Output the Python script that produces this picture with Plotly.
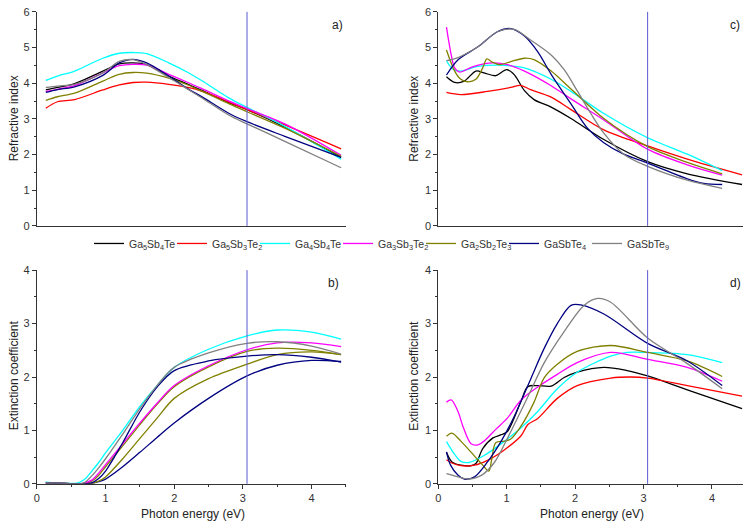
import plotly.graph_objects as go

W, H = 751, 527

names = ["Ga<sub>5</sub>Sb<sub>4</sub>Te", "Ga<sub>5</sub>Sb<sub>3</sub>Te<sub>2</sub>",
         "Ga<sub>4</sub>Sb<sub>4</sub>Te", "Ga<sub>3</sub>Sb<sub>3</sub>Te<sub>2</sub>",
         "Ga<sub>2</sub>Sb<sub>2</sub>Te<sub>3</sub>", "GaSbTe<sub>4</sub>", "GaSbTe<sub>9</sub>"]
colors = ["#000000", "#ff0000", "#00ffff", "#ff00ff", "#808000", "#000080", "#808080"]
# colours as drawn in panel b) of the original
colors_b = ["#000080", "#808000", "#00ffff", "#ff00ff", "#808000", "#000080", "#808080"]

marker_energy = 3.06

# ---------- panel a: refractive index ----------
a_E = [0.13, 0.3, 0.55, 0.96, 1.2, 1.4, 1.6, 1.92, 2.2, 2.41, 2.8, 3.06, 3.61, 4.43]
a_black = [3.81, 3.88, 3.99, 4.34, 4.54, 4.57, 4.52, 4.20, 3.97, 3.79, 3.45, 3.26, 2.77, 1.92]
a_red = [3.30, 3.48, 3.54, 3.81, 3.95, 4.02, 4.03, 3.97, 3.88, 3.77, 3.47, 3.26, 2.83, 2.16]
a_cyan = [4.08, 4.20, 4.34, 4.70, 4.84, 4.86, 4.83, 4.57, 4.30, 4.06, 3.58, 3.32, 2.79, 1.87]
a_magenta = [3.77, 3.83, 3.93, 4.29, 4.49, 4.53, 4.51, 4.25, 4.02, 3.84, 3.50, 3.29, 2.86, 1.98]
a_olive = [3.52, 3.62, 3.72, 4.06, 4.25, 4.30, 4.28, 4.14, 3.95, 3.77, 3.42, 3.20, 2.74, 1.95]
a_navy = [3.74, 3.82, 3.90, 4.22, 4.57, 4.67, 4.57, 4.20, 3.84, 3.61, 3.15, 2.92, 2.51, 1.92]
a_gray = [3.88, 3.92, 3.97, 4.29, 4.61, 4.66, 4.52, 4.16, 3.83, 3.58, 3.10, 2.86, 2.37, 1.63]

# ---------- panel b: extinction coefficient ----------
b_E = [0.13, 0.4, 0.6, 0.7, 0.8, 0.9, 1.0, 1.25, 1.5, 1.75, 2.0, 2.5, 3.06, 3.5, 4.0, 4.43]
b_black = [0.02, 0.01, 0.0, 0.0, 0.01, 0.04, 0.09, 0.32, 0.59, 0.87, 1.14, 1.60, 2.02, 2.22, 2.31, 2.29]
b_red = [0.02, 0.01, 0.0, 0.01, 0.05, 0.16, 0.32, 0.71, 1.11, 1.49, 1.82, 2.19, 2.48, 2.54, 2.50, 2.42]
b_cyan = [0.03, 0.01, 0.02, 0.09, 0.24, 0.40, 0.58, 1.00, 1.45, 1.84, 2.18, 2.52, 2.77, 2.88, 2.84, 2.71]
b_magenta = [0.02, 0.01, 0.0, 0.02, 0.07, 0.20, 0.36, 0.75, 1.14, 1.51, 1.84, 2.21, 2.51, 2.64, 2.64, 2.57]
b_olive = [0.02, 0.01, 0.0, 0.0, 0.01, 0.05, 0.13, 0.47, 0.85, 1.23, 1.60, 1.97, 2.24, 2.42, 2.47, 2.42]
b_navy = [0.02, 0.01, 0.0, 0.0, 0.02, 0.10, 0.24, 0.77, 1.35, 1.81, 2.12, 2.30, 2.39, 2.42, 2.37, 2.28]
b_gray = [0.02, 0.01, 0.0, 0.03, 0.15, 0.30, 0.47, 0.93, 1.41, 1.84, 2.18, 2.45, 2.63, 2.66, 2.58, 2.43]

# ---------- panel c: refractive index ----------
c_black_E = [0.12, 0.24, 0.38, 0.55, 0.67, 0.84, 1.0, 1.11, 1.26, 1.40, 1.65, 1.94, 2.42, 3.06, 3.64, 4.44]
c_black = [4.18, 4.02, 4.06, 4.34, 4.29, 4.21, 4.38, 4.24, 3.79, 3.54, 3.33, 3.01, 2.42, 1.80, 1.46, 1.16]
c_red_E = [0.12, 0.33, 0.72, 1.06, 1.20, 1.35, 1.65, 1.94, 2.42, 3.06, 3.64, 4.44]
c_red = [3.74, 3.68, 3.77, 3.88, 3.94, 3.82, 3.61, 3.26, 2.69, 2.24, 1.87, 1.43]
c_cyan_E = [0.12, 0.21, 0.33, 0.58, 0.97, 1.26, 1.65, 1.94, 2.42, 3.06, 3.64, 4.15]
c_cyan = [4.63, 4.40, 4.34, 4.47, 4.50, 4.43, 4.11, 3.77, 3.15, 2.47, 2.01, 1.55]
c_magenta_E = [0.12, 0.19, 0.24, 0.31, 0.50, 0.80, 1.01, 1.26, 1.65, 1.94, 2.42, 3.06, 3.64, 4.15]
c_magenta = [5.57, 4.79, 4.43, 4.31, 4.46, 4.57, 4.52, 4.34, 3.93, 3.56, 2.97, 2.15, 1.71, 1.42]
c_olive_E = [0.12, 0.24, 0.33, 0.43, 0.55, 0.65, 0.71, 0.78, 0.90, 1.05, 1.26, 1.40, 1.65, 1.94, 2.42, 3.06, 3.64, 4.15]
c_olive = [4.93, 4.34, 4.11, 4.04, 4.11, 4.43, 4.68, 4.60, 4.52, 4.60, 4.70, 4.66, 4.34, 3.84, 3.01, 2.22, 1.78, 1.46]
c_navy_E = [0.12, 0.29, 0.58, 0.87, 1.06, 1.26, 1.45, 1.65, 1.94, 2.18, 2.42, 2.71, 3.06, 3.64, 3.88, 4.15]
c_navy = [4.23, 4.66, 5.02, 5.45, 5.53, 5.32, 4.89, 4.25, 3.42, 2.74, 2.33, 2.01, 1.76, 1.32, 1.19, 1.16]
c_gray_E = [0.12, 0.29, 0.58, 0.87, 1.11, 1.35, 1.65, 1.84, 2.03, 2.23, 2.42, 2.71, 3.06, 3.64, 4.15]
c_gray = [4.63, 4.72, 5.02, 5.45, 5.51, 5.21, 4.79, 4.38, 3.79, 3.15, 2.60, 2.01, 1.67, 1.28, 1.05]

# ---------- panel d: extinction coefficient ----------
d_black_E = [0.12, 0.20, 0.33, 0.48, 0.55, 0.65, 0.80, 0.92, 1.01, 1.21, 1.31, 1.45, 1.65, 1.84, 2.03, 2.42, 2.76, 3.06, 3.64, 4.44]
d_black = [0.59, 0.41, 0.35, 0.34, 0.38, 0.66, 0.86, 0.92, 0.98, 1.55, 1.82, 1.84, 1.83, 1.99, 2.09, 2.18, 2.12, 2.02, 1.76, 1.41]
d_red_E = [0.12, 0.20, 0.33, 0.53, 0.72, 0.97, 1.21, 1.31, 1.45, 1.74, 2.03, 2.52, 2.81, 3.06, 3.64, 4.44]
d_red = [0.45, 0.39, 0.34, 0.35, 0.44, 0.64, 0.90, 1.11, 1.22, 1.60, 1.84, 1.98, 2.00, 1.98, 1.84, 1.64]
d_cyan_E = [0.12, 0.24, 0.33, 0.45, 0.67, 0.97, 1.21, 1.45, 1.74, 2.03, 2.52, 2.76, 3.06, 3.64, 4.15]
d_cyan = [0.79, 0.55, 0.42, 0.40, 0.53, 0.80, 1.05, 1.35, 1.78, 2.09, 2.39, 2.46, 2.46, 2.42, 2.27]
d_magenta_E = [0.12, 0.19, 0.29, 0.36, 0.48, 0.58, 0.67, 0.84, 1.01, 1.21, 1.45, 1.74, 2.03, 2.52, 3.06, 3.64, 4.15]
d_magenta = [1.53, 1.57, 1.35, 1.08, 0.75, 0.73, 0.80, 1.02, 1.23, 1.57, 1.81, 2.05, 2.27, 2.46, 2.33, 2.18, 1.92]
d_olive_E = [0.12, 0.20, 0.33, 0.53, 0.65, 0.74, 0.78, 0.84, 0.97, 1.06, 1.21, 1.40, 1.55, 1.74, 2.03, 2.52, 3.06, 3.64, 4.15]
d_olive = [0.89, 0.95, 0.80, 0.52, 0.35, 0.24, 0.45, 0.77, 0.80, 0.84, 1.08, 1.53, 1.99, 2.24, 2.48, 2.59, 2.46, 2.30, 2.01]
d_navy_E = [0.12, 0.18, 0.29, 0.38, 0.53, 0.72, 0.92, 1.11, 1.35, 1.55, 1.74, 1.94, 2.08, 2.42, 3.06, 3.64, 4.15]
d_navy = [0.60, 0.35, 0.16, 0.09, 0.13, 0.41, 0.80, 1.26, 1.96, 2.54, 3.00, 3.34, 3.35, 3.18, 2.63, 2.30, 1.84]
d_gray_E = [0.12, 0.29, 0.43, 0.63, 0.82, 1.01, 1.31, 1.55, 1.84, 2.13, 2.33, 2.52, 3.06, 3.64, 4.15]
d_gray = [0.19, 0.13, 0.09, 0.16, 0.40, 0.85, 1.63, 2.27, 2.85, 3.34, 3.47, 3.40, 2.73, 2.25, 1.78]

panel_a = [(a_E, a_black), (a_E, a_red), (a_E, a_cyan), (a_E, a_magenta),
           (a_E, a_olive), (a_E, a_navy), (a_E, a_gray)]
panel_b = [(b_E, b_black), (b_E, b_red), (b_E, b_cyan), (b_E, b_magenta),
           (b_E, b_olive), (b_E, b_navy), (b_E, b_gray)]
panel_c = [(c_black_E, c_black), (c_red_E, c_red), (c_cyan_E, c_cyan), (c_magenta_E, c_magenta),
           (c_olive_E, c_olive), (c_navy_E, c_navy), (c_gray_E, c_gray)]
panel_d = [(d_black_E, d_black), (d_red_E, d_red), (d_cyan_E, d_cyan), (d_magenta_E, d_magenta),
           (d_olive_E, d_olive), (d_navy_E, d_navy), (d_gray_E, d_gray)]

fig = go.Figure()

def add_panel(data, xa, ya, cols, legend):
    for i, (xs, ys) in enumerate(data):
        fig.add_trace(go.Scatter(
            x=xs, y=ys, mode="lines", name=names[i], legendgroup=names[i],
            showlegend=legend, xaxis=xa, yaxis=ya,
            line=dict(color=cols[i], width=1.3, shape="spline", smoothing=0.9)))

add_panel(panel_a, "x", "y", colors, True)
add_panel(panel_c, "x2", "y2", colors, False)
add_panel(panel_b, "x3", "y3", colors_b, False)
add_panel(panel_d, "x4", "y4", colors, False)

def px_x(p):
    return p / W

def px_y(p):
    return 1 - p / H

axcol = "#333333"
FONT = "Liberation Sans, Arial, sans-serif"
tickfont = dict(family=FONT, size=11, color=axcol)

def yax(top, bottom, rng, anchor):
    return dict(domain=[px_y(bottom), px_y(top)], range=rng, anchor=anchor,
                showline=True, linecolor=axcol, linewidth=1, ticks="outside", ticklen=4,
                tickcolor=axcol, dtick=1, tick0=0, showgrid=False, zeroline=False,
                tickfont=tickfont, fixedrange=True,
                minor=dict(ticks="outside", ticklen=2, dtick=0.5, tickcolor=axcol, showgrid=False))

def xax(left, right, rng, anchor, labels):
    d = dict(domain=[px_x(left), px_x(right)], range=rng, anchor=anchor,
             showline=True, linecolor=axcol, linewidth=1, showgrid=False, zeroline=False,
             tickfont=tickfont, fixedrange=True)
    if labels:
        d.update(ticks="outside", ticklen=4, tickcolor=axcol, dtick=1, tick0=0,
                 showticklabels=True,
                 minor=dict(ticks="outside", ticklen=2, dtick=0.5, tickcolor=axcol, showgrid=False))
    else:
        d.update(ticks="", showticklabels=False)
    return d

L1, R1 = 34, 344.3
L2, R2 = 437, 742.7
T1, B1 = 6, 225
T2, B2 = 270.3, 489

fig.update_layout(
    width=W, height=H,
    margin=dict(l=0, r=0, t=0, b=0),
    paper_bgcolor="white", plot_bgcolor="white",
    font=dict(family=FONT, size=11, color=axcol),
    xaxis=xax(L1, R1, [0, 4.5], "y", False),
    yaxis=yax(T1, B1, [0, 6], "x"),
    xaxis2=xax(L2, R2, [0, 4.45], "y2", False),
    yaxis2=yax(T1, B1, [0, 6], "x2"),
    xaxis3=xax(L1, R1, [0, 4.5], "y3", True),
    yaxis3=yax(T2, B2, [0, 4], "x3"),
    xaxis4=xax(L2, R2, [0, 4.45], "y4", True),
    yaxis4=yax(T2, B2, [0, 4], "x4"),
    legend=dict(orientation="h", x=px_x(378), xanchor="center", y=px_y(243), yanchor="middle",
                font=dict(family=FONT, size=10.5, color=axcol), bgcolor="rgba(0,0,0,0)",
                itemwidth=30, entrywidth=38, entrywidthmode="pixels", tracegroupgap=0),
    showlegend=True,
)

vline = dict(color="#5b5bd0", width=1)
for xa, ya in [("x", "y"), ("x2", "y2"), ("x3", "y3"), ("x4", "y4")]:
    fig.add_shape(type="line", xref=xa, yref=ya + " domain", x0=marker_energy, x1=marker_energy,
                  y0=0, y1=1, line=vline, layer="above")

title_font = dict(family=FONT, size=12, color="#222222")
ann = [
    ("Refractive index", 11, 115, -90),
    ("Refractive index", 413, 115, -90),
    ("Extinction coefficient", 11, 378, -90),
    ("Extinction coefficient", 413, 378, -90),
    ("Photon energy (eV)", 191, 520, 0),
    ("Photon energy (eV)", 591, 520, 0),
    ("a)", 336, 19, 0),
    ("c)", 735, 19, 0),
    ("b)", 332, 283, 0),
    ("d)", 735, 283, 0),
]
for text, x, y, ang in ann:
    fig.add_annotation(text=text, x=px_x(x), y=px_y(y), xref="paper", yref="paper",
                       showarrow=False, textangle=ang, font=title_font,
                       xanchor="center", yanchor="middle")

fig.write_html("out.html", config={"displayModeBar": False},
               post_script="document.body.style.margin='0';document.body.style.overflow='hidden';")
